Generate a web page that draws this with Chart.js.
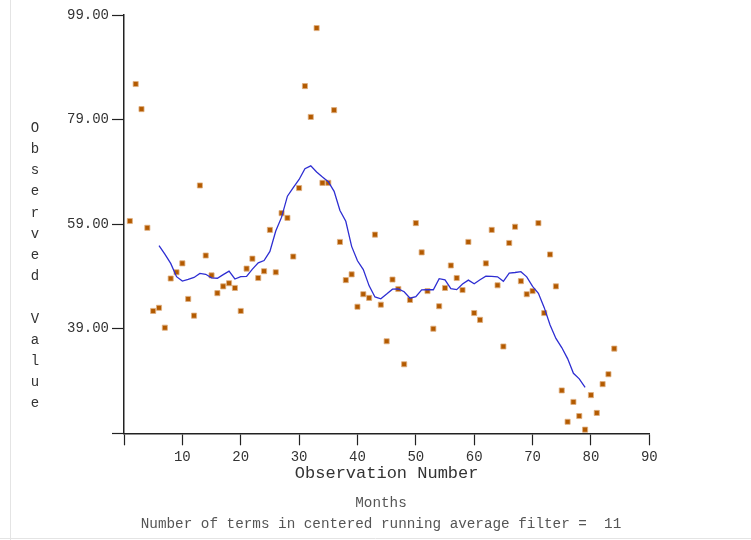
<!DOCTYPE html>
<html>
<head>
<meta charset="utf-8">
<script src="https://cdn.jsdelivr.net/npm/chart.js@4/dist/chart.umd.min.js"></script>
<style>
  html, body { margin: 0; padding: 0; background: #ffffff; }
  #wrap { width: 751px; height: 540px; position: relative; }
  canvas { display: block; }
</style>
</head>
<body>
<div id="wrap"><canvas id="c" width="751" height="540" style="width:751px;height:540px"></canvas></div>
<script>
// ---- Data ----
const obsNumbers = [
  1, 2, 3, 4, 5, 6, 7, 8, 9, 10, 11, 12, 13, 14, 15, 16, 17, 18, 19, 20,
  21, 22, 23, 24, 25, 26, 27, 28, 29, 30, 31, 32, 33, 34, 35, 36, 37, 38, 39, 40,
  41, 42, 43, 44, 45, 46, 47, 48, 49, 50, 51, 52, 53, 54, 55, 56, 57, 58, 59, 60,
  61, 62, 63, 64, 65, 66, 67, 68, 69, 70, 71, 72, 73, 74, 75, 76, 77, 78, 79, 80,
  81, 82, 83, 84
];
const observedValues = [
  59.6, 85.8, 81.0, 58.3, 42.4, 43.0, 39.2, 48.6, 49.8, 51.5,
  44.7, 41.5, 66.4, 53.0, 49.2, 45.8, 47.1, 47.7, 46.8, 42.4,
  50.5, 52.4, 48.7, 50.0, 57.9, 49.8, 61.1, 60.2, 52.8, 65.9,
  85.4, 79.5, 96.5, 66.9, 66.9, 80.8, 55.6, 48.3, 49.4, 43.2,
  45.6, 44.9, 57.0, 43.6, 36.6, 48.4, 46.6, 32.2, 44.5, 59.2,
  53.6, 46.2, 39.0, 43.3, 46.8, 51.1, 48.7, 46.4, 55.6, 42.0,
  40.7, 51.5, 57.9, 47.3, 35.6, 55.4, 58.5, 48.1, 45.6, 46.2,
  59.2, 42.0, 53.2, 47.1, 27.2, 21.2, 25.0, 22.3, 19.7, 26.3,
  22.9, 28.4, 30.3, 35.2
];
// centered running average curve (observations 6 .. 79)
const avgObsNumbers = [
  6, 7, 8, 9, 10, 11, 12, 13, 14, 15, 16, 17, 18, 19, 20, 21, 22, 23, 24, 25,
  26, 27, 28, 29, 30, 31, 32, 33, 34, 35, 36, 37, 38, 39, 40, 41, 42, 43, 44, 45,
  46, 47, 48, 49, 50, 51, 52, 53, 54, 55, 56, 57, 58, 59, 60, 61, 62, 63, 64, 65,
  66, 67, 68, 69, 70, 71, 72, 73, 74, 75, 76, 77, 78, 79
];
const runningAverage = [
  54.90, 53.25, 51.49, 48.95, 48.12, 48.43, 48.80, 49.57, 49.41, 48.74,
  48.65, 49.35, 50.00, 48.51, 48.95, 49.01, 50.40, 51.59, 52.05, 53.79,
  57.70, 60.34, 64.35, 66.00, 67.54, 69.62, 70.15, 68.98, 68.00, 67.13,
  65.28, 61.60, 59.55, 54.75, 51.99, 50.31, 47.20, 45.07, 44.73, 45.62,
  46.56, 46.62, 46.08, 44.84, 45.13, 46.45, 46.47, 46.45, 48.58, 48.35,
  46.67, 46.48, 47.55, 48.30, 47.60, 48.38, 49.05, 49.00, 48.93, 48.07,
  49.64, 49.75, 49.91, 48.93, 47.10, 45.79, 43.03, 39.73, 37.15, 35.40,
  33.28, 30.48, 29.41, 27.78
];
const xTickValues = [0, 10, 20, 30, 40, 50, 60, 70, 80, 90];
const yTickValues = [19, 39, 59, 79, 99];
const xAxisTitle = 'Observation Number';
const yAxisTitle = 'Observed Value';
const bottomLines = ['Months', 'Number of terms in centered running average filter =  11'];

// ---- Chart ----
const FONT = '"Liberation Mono", "DejaVu Sans Mono", monospace';

const textDecor = {
  id: 'textDecor',
  beforeDraw(chart) {
    const ctx = chart.ctx;
    ctx.save();
    ctx.strokeStyle = '#e4e4e4';
    ctx.lineWidth = 1;
    ctx.beginPath();
    ctx.moveTo(10.5, 0); ctx.lineTo(10.5, 540);
    ctx.moveTo(0, 538.5); ctx.lineTo(751, 538.5);
    ctx.stroke();
    ctx.restore();
  },
  afterDraw(chart) {
    const ctx = chart.ctx;
    ctx.save();
    // stacked y-axis title
    ctx.font = '14px ' + FONT;
    ctx.fillStyle = '#333';
    ctx.textAlign = 'center';
    ctx.textBaseline = 'middle';
    Array.from(yAxisTitle).forEach((ch, i) => {
      ctx.fillText(ch, 35, 128 + 21.2 * i);
    });
    // bottom caption lines
    ctx.fillStyle = '#555';
    ctx.font = '14.3px ' + FONT;
    const bottomArea = chart.chartArea.bottom + 50.7;
    bottomLines.forEach((line, i) => {
      ctx.fillText(line, 381, bottomArea + 19 + 21 * i);
    });
    ctx.restore();
  }
};

new Chart(document.getElementById('c'), {
  type: 'scatter',
  data: {
    datasets: [
      {
        label: 'Running average',
        type: 'line',
        data: avgObsNumbers.map((x, i) => ({ x: x, y: runningAverage[i] })),
        borderColor: '#2e2ed2',
        borderWidth: 1.3,
        pointRadius: 0,
        fill: false,
        tension: 0,
        order: 0
      },
      {
        label: 'Observed',
        data: obsNumbers.map((x, i) => ({ x: x, y: observedValues[i] })),
        pointStyle: 'rect',
        pointRadius: 3.6,
        backgroundColor: '#b35a00',
        borderColor: '#e0b080',
        borderWidth: 0.8,
        showLine: false,
        order: 1
      }
    ]
  },
  options: {
    responsive: false,
    animation: false,
    devicePixelRatio: 1,
    layout: { padding: { left: 0, right: 101.7, top: 15, bottom: 56 } },
    plugins: {
      legend: { display: false },
      tooltip: { enabled: false },
      title: { display: false }
    },
    scales: {
      x: {
        type: 'linear',
        min: 0,
        max: 90,
        afterBuildTicks: s => { s.ticks = xTickValues.map(v => ({ value: v })); },
        afterFit: s => { s.height = 50.7; },
        grid: { drawOnChartArea: false, drawTicks: true, tickLength: 12, color: '#222', tickWidth: 1.2 },
        border: { display: true, color: '#222', width: 1.5 },
        ticks: {
          padding: 4,
          color: '#333',
          font: { family: FONT, size: 14 },
          maxRotation: 0,
          callback: v => (v === 0 ? '' : String(v))
        },
        title: {
          display: true,
          text: xAxisTitle,
          color: '#333',
          font: { family: FONT, size: 17 },
          padding: 0
        }
      },
      y: {
        type: 'linear',
        min: 19,
        max: 99,
        afterBuildTicks: s => { s.ticks = yTickValues.map(v => ({ value: v })); },
        afterFit: s => { s.width = 124; },
        grid: { drawOnChartArea: false, drawTicks: true, tickLength: 12, color: '#222', tickWidth: 1.2 },
        border: { display: true, color: '#222', width: 1.5 },
        ticks: {
          padding: 3,
          color: '#333',
          font: { family: FONT, size: 14 },
          callback: v => (v === 19 ? '' : Number(v).toFixed(2))
        },
        title: { display: false }
      }
    }
  },
  plugins: [textDecor]
});
</script>
</body>
</html>
